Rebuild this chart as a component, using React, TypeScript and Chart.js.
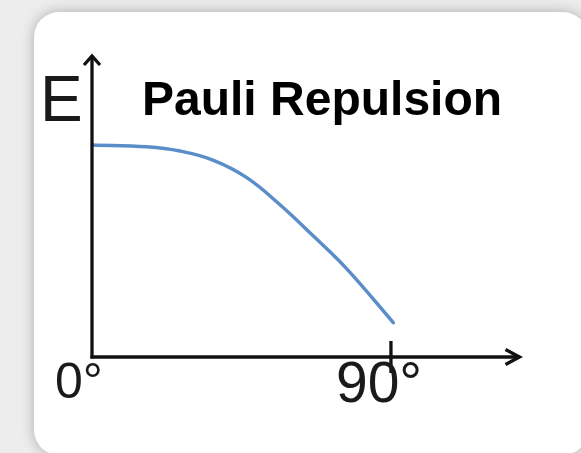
import React, { useEffect, useRef } from 'react';
import { Chart, registerables } from 'chart.js';

Chart.register(...registerables);

const angles = [0, 16.5, 26.5, 36.4, 46.6, 56.6, 66.5, 76.7, 90.7];
const energies = [70.2, 69.6, 68.2, 65.2, 59.4, 50.4, 40.2, 29.2, 11.4];
const xTickValues = [0, 90];
const xTickLabels = ['0°', '90°'];
const yAxisLabel = 'E';
const chartTitle = 'Pauli Repulsion';

const FONT = '"Liberation Sans", Arial, Helvetica, sans-serif';

const axesPlugin = {
  id: 'handAxes',
  afterDatasetsDraw(chart: any) {
    const ctx = chart.ctx as CanvasRenderingContext2D;
    const xs = chart.scales.x;
    const ys = chart.scales.y;
    const x0 = xs.getPixelForValue(0);
    const xEnd = xs.getPixelForValue(xs.max);
    const y0 = ys.getPixelForValue(0);
    const yEnd = ys.getPixelForValue(ys.max);
    ctx.save();
    ctx.strokeStyle = '#111';
    ctx.lineWidth = 3.3;
    ctx.lineCap = 'butt';
    ctx.lineJoin = 'miter';
    // y axis
    ctx.beginPath();
    ctx.moveTo(x0, y0 + 1.5);
    ctx.lineTo(x0, yEnd + 1);
    ctx.stroke();
    ctx.beginPath();
    ctx.moveTo(x0 - 8, yEnd + 10);
    ctx.lineTo(x0, yEnd + 1);
    ctx.lineTo(x0 + 8, yEnd + 10);
    ctx.stroke();
    // x axis
    ctx.beginPath();
    ctx.moveTo(x0 - 1.5, y0);
    ctx.lineTo(xEnd - 1, y0);
    ctx.stroke();
    ctx.beginPath();
    ctx.moveTo(xEnd - 15, y0 - 7.5);
    ctx.lineTo(xEnd - 1, y0);
    ctx.lineTo(xEnd - 15, y0 + 7.5);
    ctx.stroke();
    // tick at 90
    const xt = xs.getPixelForValue(xTickValues[1]);
    ctx.beginPath();
    ctx.moveTo(xt, y0 - 16);
    ctx.lineTo(xt, y0 + 16);
    ctx.stroke();

    // texts
    ctx.fillStyle = '#1a1a1a';
    ctx.textBaseline = 'alphabetic';
    ctx.textAlign = 'left';
    ctx.font = `400 64px ${FONT}`;
    ctx.fillText(yAxisLabel, x0 - 52, yEnd + 66);
    ctx.fillStyle = '#000';
    ctx.font = `700 48px ${FONT}`;
    ctx.fillText(chartTitle, x0 + 50, yEnd + 60);
    ctx.fillStyle = '#1a1a1a';
    ctx.font = `400 50px ${FONT}`;
    ctx.fillText(xTickLabels[0], xs.getPixelForValue(xTickValues[0]) - 37, y0 + 41);
    ctx.font = `400 57px ${FONT}`;
    ctx.fillText(xTickLabels[1], xt - 55, y0 + 45);
    ctx.restore();
  },
};

export default function App() {
  const ref = useRef<HTMLCanvasElement | null>(null);
  useEffect(() => {
    if (!ref.current) return;
    const chart = new Chart(ref.current, {
      type: 'line',
      data: {
        datasets: [
          {
            data: angles.map((a, i) => ({ x: a, y: energies[i] })),
            borderColor: '#5b8ec8',
            borderWidth: 3.5,
            pointRadius: 0,
            fill: false,
            tension: 0.4,
            borderCapStyle: 'round',
          },
        ],
      },
      options: {
        animation: false,
        responsive: false,
        layout: { padding: { left: 92, right: 60.5, top: 55, bottom: 96 } },
        plugins: { legend: { display: false }, tooltip: { enabled: false }, title: { display: false } },
        scales: {
          x: { type: 'linear', min: 0, max: 129, display: false },
          y: { type: 'linear', min: 0, max: 100, display: false },
        },
      },
      plugins: [axesPlugin],
    });
    return () => chart.destroy();
  }, []);

  return (
    <div style={{ position: 'fixed', left: 0, top: 0, width: 581, height: 453, background: '#ededed', overflow: 'hidden' }}>
      <div
        style={{
          position: 'absolute',
          left: 34,
          top: 12,
          width: 554,
          height: 443,
          borderRadius: 25,
          background: '#fff',
          boxShadow: '0 0 14px rgba(0,0,0,0.28)',
        }}
      />
      <canvas ref={ref} width={581} height={453} style={{ position: 'absolute', left: 0, top: 0, width: 581, height: 453 }} />
    </div>
  );
}
